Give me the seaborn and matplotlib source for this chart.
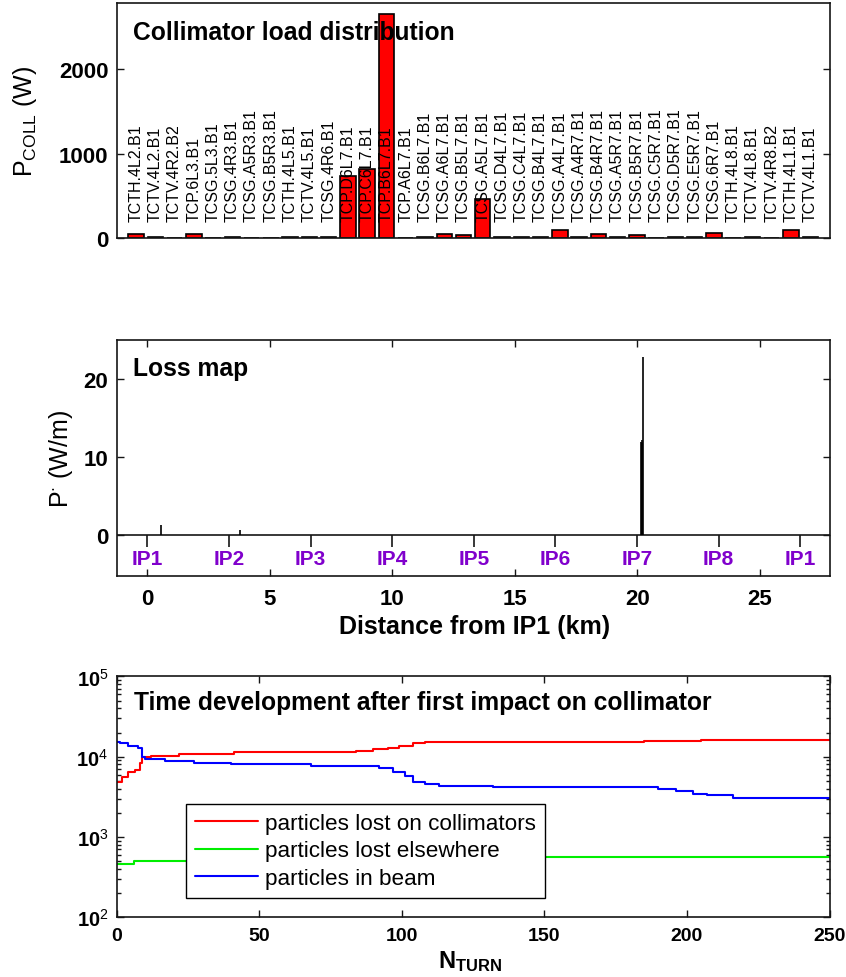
import numpy as np
import pandas as pd
import matplotlib
matplotlib.use("Agg")
import matplotlib.pyplot as plt
from matplotlib.lines import Line2D
import seaborn as sns

# ---------------- data ----------------
collimators = [
    "TCTH.4L2.B1", "TCTV.4L2.B1", "TCTV.4R2.B2", "TCP.6L3.B1", "TCSG.5L3.B1",
    "TCSG.4R3.B1", "TCSG.A5R3.B1", "TCSG.B5R3.B1", "TCTH.4L5.B1", "TCTV.4L5.B1",
    "TCSG.4R6.B1", "TCP.D6L7.B1", "TCP.C6L7.B1", "TCP.B6L7.B1", "TCP.A6L7.B1",
    "TCSG.B6L7.B1", "TCSG.A6L7.B1", "TCSG.B5L7.B1", "TCSG.A5L7.B1", "TCSG.D4L7.B1",
    "TCSG.C4L7.B1", "TCSG.B4L7.B1", "TCSG.A4L7.B1", "TCSG.A4R7.B1", "TCSG.B4R7.B1",
    "TCSG.A5R7.B1", "TCSG.B5R7.B1", "TCSG.C5R7.B1", "TCSG.D5R7.B1", "TCSG.E5R7.B1",
    "TCSG.6R7.B1", "TCTH.4L8.B1", "TCTV.4L8.B1", "TCTV.4R8.B2", "TCTH.4L1.B1",
    "TCTV.4L1.B1",
]
p_coll = [50, 15, 0, 50, 0, 15, 0, 0, 15, 15,
          15, 740, 820, 2650, 0, 15, 50, 35, 465, 15,
          15, 15, 100, 15, 50, 15, 35, 0, 15, 15,
          55, 0, 15, 0, 100, 15]

ip_names = ["IP1", "IP2", "IP3", "IP4", "IP5", "IP6", "IP7", "IP8", "IP1"]
ip_pos_km = [0.0, 3.332, 6.665, 9.997, 13.330, 16.662, 19.994, 23.327, 26.659]

loss_s_km = [0.57, 3.80, 20.15, 20.18, 20.21, 20.24]
loss_w_per_m = [1.2, 0.6, 11.9, 12.1, 11.8, 22.8]

turn_coll = [0, 2, 4, 6.5, 8, 9, 12, 22, 41, 84, 90, 95, 99, 104, 108, 185, 205, 250]
n_coll = [4900, 5660, 6530, 6840, 8270, 9800, 10300, 10800, 11300, 11750,
          12300, 12900, 13500, 14600, 15170, 15600, 16350, 16350]

turn_else = [0, 6, 105, 250]
n_else = [460, 506, 556, 556]

turn_beam = [0, 1, 4, 7.5, 9, 10, 17, 27, 40, 68, 92, 97, 101, 104, 108, 113,
             132, 190, 196, 202, 207, 216, 250]
n_beam = [15300, 14600, 13540, 12670, 10000, 9450, 8930, 8430, 8040, 7670,
          7310, 6530, 5670, 4910, 4550, 4340, 4180, 3950, 3700, 3460, 3300,
          3030, 3030]

series_names = ["particles lost on collimators", "particles lost elsewhere",
                "particles in beam"]
series_colors = ["#FF0000", "#00EE00", "#0000FF"]

# ---------------- style ----------------
sns.set_theme(style="white")
plt.rcParams["font.family"] = ["Liberation Sans", "DejaVu Sans"]
plt.rcParams["mathtext.fontset"] = "custom"
plt.rcParams["mathtext.rm"] = "Liberation Sans"
plt.rcParams["mathtext.bf"] = "Liberation Sans:bold"
plt.rcParams["mathtext.it"] = "Liberation Sans:italic"
plt.rcParams["text.color"] = "black"
plt.rcParams["axes.labelcolor"] = "black"
plt.rcParams["xtick.color"] = "black"
plt.rcParams["ytick.color"] = "black"
plt.rcParams["axes.edgecolor"] = "#151515"
plt.rcParams["axes.linewidth"] = 1.2

fig = plt.figure(figsize=(8.46, 9.78), dpi=100)
ax1 = fig.add_axes([0.138, 0.7556, 0.8425, 0.2403])
ax2 = fig.add_axes([0.138, 0.4103, 0.8425, 0.2413])
ax3 = fig.add_axes([0.138, 0.0610, 0.8425, 0.2464])

for ax in (ax1, ax2, ax3):
    for sp in ax.spines.values():
        sp.set_visible(True)
        sp.set_color("#151515")
        sp.set_linewidth(1.2)

# ---------------- collimator loads ----------------
df_coll = pd.DataFrame({"collimator": collimators, "power": p_coll})
sns.barplot(data=df_coll, x="collimator", y="power", color="#FF0000",
            saturation=1, edgecolor="black", linewidth=1.2, width=0.8, ax=ax1)
ax1.set_xlim(-1, len(collimators))
ax1.set_ylim(0, 2785)
ax1.set_xticks([])
ax1.set_xlabel("")
ax1.set_ylabel("")
ax1.set_yticks([0, 1000, 2000])
ax1.set_yticklabels(["0", "1000", "2000"], fontsize=16, fontweight="bold")
ax1.tick_params(axis="y", direction="in", left=True, right=True, length=5,
                width=1, pad=6, colors="#151515", labelcolor="black")
for i, name in enumerate(collimators):
    ax1.text(i, 200, name, rotation=90, ha="center", va="bottom",
             fontsize=11.5, color="black")
ax1.text(0.023, 0.877, "Collimator load distribution", transform=ax1.transAxes,
         fontsize=17.7, fontweight="bold", va="center", ha="left")
ax1.text(-0.129, 0.5, r"P$_{\mathrm{COLL}}$ (W)", transform=ax1.transAxes,
         rotation=90, ha="center", va="center", fontsize=18)

# ---------------- loss map ----------------
ax2.set_xlim(-1.25, 27.85)
ax2.set_ylim(-5.25, 25)
ax2.axhline(0, color="#151515", lw=1.2)
ax2.vlines(loss_s_km, 0, loss_w_per_m, color="black", lw=1.2)
ax2.vlines(ip_pos_km, -1.55, 0, color="#151515", lw=1.2)
for name, s in zip(ip_names, ip_pos_km):
    ax2.text(s, -3.1, name, ha="center", va="center", fontsize=15,
             fontweight="bold", color="#8000CC")
ax2.set_xticks([0, 5, 10, 15, 20, 25])
ax2.set_xticklabels(["0", "5", "10", "15", "20", "25"], fontsize=16,
                    fontweight="bold")
ax2.set_yticks([0, 10, 20])
ax2.set_yticklabels(["0", "10", "20"], fontsize=16, fontweight="bold")
ax2.tick_params(axis="both", direction="in", left=True, right=True,
                bottom=True, top=True, length=5, width=1, colors="#151515",
                labelcolor="black")
ax2.tick_params(axis="x", pad=9)
ax2.tick_params(axis="y", pad=6)
ax2.text(0.023, 0.879, "Loss map", transform=ax2.transAxes, fontsize=17.7,
         fontweight="bold", va="center", ha="left")
ax2.text(0.502, -0.213, "Distance from IP1 (km)", transform=ax2.transAxes,
         ha="center", va="center", fontsize=18, fontweight="bold")
ax2.text(-0.078, 0.5, r"P$^{\cdot}$ (W/m)", transform=ax2.transAxes,
         rotation=90, ha="center", va="center", fontsize=18)

# ---------------- time development ----------------
frames = []
for name, t, n in zip(series_names, [turn_coll, turn_else, turn_beam],
                      [n_coll, n_else, n_beam]):
    frames.append(pd.DataFrame({"turn": t, "n": n, "series": name}))
df_time = pd.concat(frames, ignore_index=True)
sns.lineplot(data=df_time, x="turn", y="n", hue="series",
             hue_order=series_names, palette=series_colors, estimator=None,
             drawstyle="steps-post", linewidth=1.5, legend=False, ax=ax3)
ax3.set_yscale("log")
ax3.set_xlim(0, 250)
ax3.set_ylim(1e2, 1e5)
ax3.set_xlabel("")
ax3.set_ylabel("")
ax3.set_xticks([0, 50, 100, 150, 200, 250])
ax3.set_xticklabels(["0", "50", "100", "150", "200", "250"], fontsize=14,
                    fontweight="bold")
ax3.set_yticks([1e2, 1e3, 1e4, 1e5])
ax3.set_yticklabels([r"$\mathbf{10}^{\mathrm{2}}$", r"$\mathbf{10}^{\mathrm{3}}$",
                     r"$\mathbf{10}^{\mathrm{4}}$", r"$\mathbf{10}^{\mathrm{5}}$"],
                    fontsize=14.5)
ax3.yaxis.set_minor_locator(matplotlib.ticker.LogLocator(base=10, subs=np.arange(2, 10)))
ax3.yaxis.set_minor_formatter(matplotlib.ticker.NullFormatter())
ax3.tick_params(axis="both", which="major", direction="in", left=True,
                right=True, bottom=True, top=True, length=5, width=1,
                colors="#151515", labelcolor="black")
ax3.tick_params(axis="y", which="minor", direction="in", left=True,
                right=True, length=3, width=1, colors="#151515")
ax3.tick_params(axis="x", pad=7)
ax3.tick_params(axis="y", pad=6)
ax3.text(0.024, 0.893, "Time development after first impact on collimator",
         transform=ax3.transAxes, fontsize=17.7, fontweight="bold",
         va="center", ha="left")
ax3.text(0.496, -0.181, r"$\mathbf{N}_{\mathbf{TURN}}$", transform=ax3.transAxes,
         ha="center", va="center", fontsize=17)

handles = [Line2D([0], [0], color=c, lw=1.5) for c in series_colors]
leg = ax3.legend(handles, series_names, loc="upper left",
                 bbox_to_anchor=(0.097, 0.470), frameon=True, fancybox=False,
                 edgecolor="black", framealpha=1, fontsize=16.2,
                 handlelength=2.8, handletextpad=0.3, labelspacing=0.28,
                 borderpad=0.4, borderaxespad=0)
leg.get_frame().set_linewidth(1.0)

fig.savefig("out.png", dpi=100)
